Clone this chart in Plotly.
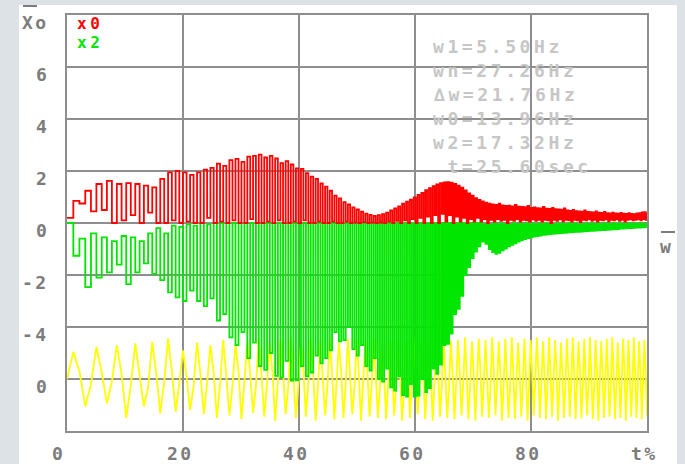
import plotly.graph_objects as go

# time (t%) of the turning points (peaks / zero returns)
t_ext = [
    0.00, 1.09, 2.14, 3.15, 4.13, 5.07, 5.99, 6.88, 7.74, 8.59,
    9.41, 10.21, 11.00, 11.77, 12.52, 13.26, 13.99, 14.70, 15.40, 16.08,
    16.76, 17.43, 18.08, 18.73, 19.36, 19.99, 20.61, 21.22, 21.82, 22.42,
    23.00, 23.59, 24.16, 24.73, 25.29, 25.84, 26.39, 26.93, 27.47, 28.00,
    28.53, 29.05, 29.57, 30.08, 30.59, 31.09, 31.59, 32.08, 32.57, 33.06,
    33.54, 34.01, 34.49, 34.96, 35.42, 35.89, 36.35, 36.80, 37.25, 37.70,
    38.15, 38.59, 39.03, 39.47, 39.90, 40.34, 40.76, 41.19, 41.61, 42.03,
    42.45, 42.87, 43.28, 43.69, 44.09, 44.50, 44.90, 45.30, 45.70, 46.10,
    46.49, 46.88, 47.27, 47.66, 48.05, 48.43, 48.81, 49.19, 49.57, 49.94,
    50.32, 50.69, 51.06, 51.43, 51.80, 52.16, 52.52, 52.89, 53.25, 53.60,
    53.96, 54.32, 54.67, 55.02, 55.37, 55.72, 56.07, 56.41, 56.76, 57.10,
    57.44, 57.78, 58.12, 58.46, 58.79, 59.13, 59.46, 59.79, 60.13, 60.45,
    60.78, 61.11, 61.44, 61.76, 62.08, 62.41, 62.73, 63.05, 63.37, 63.68,
    64.00, 64.31, 64.63, 64.94, 65.25, 65.56, 65.87, 66.18, 66.49, 66.80,
    67.10, 67.41, 67.71, 68.01, 68.32, 68.62, 68.92, 69.21, 69.51, 69.81,
    70.11, 70.40, 70.69, 70.99, 71.28, 71.57, 71.86, 72.15, 72.44, 72.73,
    73.02, 73.30, 73.59, 73.87, 74.16, 74.44, 74.72, 75.00, 75.29, 75.57,
    75.84, 76.12, 76.40, 76.68, 76.95, 77.23, 77.50, 77.78, 78.05, 78.32,
    78.59, 78.87, 79.14, 79.41, 79.67, 79.94, 80.21, 80.48, 80.74, 81.01,
    81.27, 81.54, 81.80, 82.06, 82.33, 82.59, 82.85, 83.11, 83.37, 83.63,
    83.89, 84.15, 84.40, 84.66, 84.92, 85.17, 85.43, 85.68, 85.93, 86.19,
    86.44, 86.69, 86.94, 87.19, 87.44, 87.69, 87.94, 88.19, 88.44, 88.69,
    88.94, 89.18, 89.43, 89.67, 89.92, 90.16, 90.41, 90.65, 90.89, 91.14,
    91.38, 91.62, 91.86, 92.10, 92.34, 92.58, 92.82, 93.06, 93.30, 93.53,
    93.77, 94.01, 94.24, 94.48, 94.71, 94.95, 95.18, 95.42, 95.65, 95.88,
    96.12, 96.35, 96.58, 96.81, 97.04, 97.27, 97.50, 97.73, 97.96, 98.19,
    98.42, 98.64, 98.87, 99.10, 99.32, 99.55, 99.78, 100.00,
]

# x0 (red)
x0 = [
    0.20, 0.85, 0.75, 1.24, 0.45, 1.50, 0.50, 1.62, 0.00, 1.50,
    0.10, 1.53, 0.30, 1.50, 0.00, 1.44, 0.40, 1.37, 0.00, 1.70,
    0.00, 1.95, 0.10, 2.00, 0.00, 1.95, 0.05, 1.85, 0.00, 1.95,
    0.00, 2.05, 0.20, 2.12, 0.00, 2.28, 0.05, 2.20, 0.00, 2.42,
    0.10, 2.47, 0.00, 2.35, 0.00, 2.55, 0.15, 2.58, 0.00, 2.63,
    0.00, 2.52, 0.05, 2.58, 0.00, 2.48, 0.10, 2.30, 0.00, 2.38,
    0.00, 2.25, 0.05, 2.10, 0.00, 2.08, 0.10, 1.92, 0.00, 1.78,
    0.00, 1.70, 0.05, 1.52, 0.00, 1.40, 0.00, 1.24, 0.05, 1.05,
    0.00, 0.95, 0.00, 0.80, 0.05, 0.72, 0.00, 0.60, 0.02, 0.52,
    0.00, 0.44, 0.03, 0.36, 0.00, 0.31, 0.02, 0.27, 0.00, 0.30,
    0.02, 0.34, 0.00, 0.40, 0.05, 0.48, 0.00, 0.56, 0.08, 0.64,
    0.00, 0.74, 0.10, 0.82, 0.00, 0.90, 0.15, 0.98, 0.00, 1.08,
    0.20, 1.16, 0.00, 1.26, 0.25, 1.34, 0.00, 1.42, 0.30, 1.48,
    0.00, 1.53, 0.35, 1.56, 0.05, 1.57, 0.30, 1.55, 0.00, 1.50,
    0.25, 1.44, 0.05, 1.36, 0.20, 1.25, 0.00, 1.14, 0.15, 1.05,
    0.05, 0.96, 0.20, 0.89, 0.05, 0.83, 0.15, 0.78, 0.00, 0.74,
    0.12, 0.72, 0.05, 0.70, 0.15, 0.74, 0.08, 0.68, 0.12, 0.66,
    0.00, 0.67, 0.12, 0.64, 0.08, 0.70, 0.15, 0.63, 0.05, 0.62,
    0.12, 0.61, 0.10, 0.66, 0.05, 0.58, 0.14, 0.60, 0.08, 0.57,
    0.12, 0.56, 0.05, 0.62, 0.12, 0.55, 0.10, 0.54, 0.00, 0.58,
    0.12, 0.53, 0.08, 0.52, 0.14, 0.51, 0.06, 0.56, 0.12, 0.48,
    0.10, 0.47, 0.05, 0.50, 0.12, 0.46, 0.10, 0.45, 0.03, 0.44,
    0.12, 0.48, 0.10, 0.43, 0.14, 0.42, 0.08, 0.41, 0.12, 0.45,
    0.05, 0.40, 0.12, 0.39, 0.10, 0.43, 0.14, 0.38, 0.06, 0.37,
    0.12, 0.40, 0.10, 0.37, 0.14, 0.36, 0.08, 0.39, 0.12, 0.36,
    0.05, 0.35, 0.12, 0.38, 0.14, 0.35, 0.10, 0.34, 0.12, 0.37,
    0.14, 0.38, 0.10, 0.41, 0.15, 0.42, 0.12, 0.40,
]

# x2 (green)
x2 = [
    0.00, -1.26, -0.60, -2.47, -0.40, -2.10, -0.55, -1.90, -0.70, -1.60,
    -0.50, -2.35, -0.55, -1.90, -0.70, -1.55, -0.40, -1.96, -0.20, -2.20,
    -0.40, -2.67, -0.10, -2.86, -0.15, -3.00, -0.05, -2.60, -0.10, -3.00,
    0.00, -3.20, -0.05, -2.90, 0.00, -3.75, 0.00, -3.50, 0.00, -4.40,
    0.00, -4.70, 0.00, -4.20, 0.00, -5.20, 0.00, -4.60, 0.00, -5.50,
    0.00, -5.65, 0.00, -5.00, 0.00, -5.88, 0.00, -5.94, 0.00, -5.30,
    0.00, -6.06, 0.00, -6.05, 0.00, -5.50, 0.00, -5.90, 0.00, -5.75,
    0.00, -5.10, 0.00, -5.40, 0.00, -5.20, 0.00, -4.90, 0.00, -4.20,
    0.00, -4.55, 0.00, -4.50, 0.00, -4.00, 0.00, -4.85, 0.00, -5.10,
    0.00, -4.70, 0.00, -5.50, 0.00, -5.68, 0.00, -5.20, 0.00, -6.00,
    0.00, -6.10, 0.00, -5.60, 0.00, -6.32, 0.00, -6.45, 0.00, -5.90,
    0.00, -6.62, 0.00, -6.68, 0.00, -6.20, 0.00, -6.68, 0.00, -6.64,
    0.00, -6.00, 0.00, -6.50, 0.00, -6.35, 0.00, -5.60, 0.00, -5.80,
    0.00, -5.45, 0.00, -4.70, 0.00, -4.65, 0.00, -4.25, 0.00, -3.50,
    0.00, -3.30, 0.00, -2.80, 0.00, -2.00, 0.00, -1.70, 0.00, -1.35,
    0.00, -1.10, 0.00, -0.90, 0.00, -0.72, -0.05, -0.80, 0.00, -1.00,
    -0.05, -1.12, 0.00, -1.19, -0.05, -1.15, 0.00, -1.05, -0.05, -0.98,
    0.00, -0.90, -0.05, -0.84, 0.00, -0.78, -0.05, -0.72, 0.00, -0.67,
    -0.05, -0.62, 0.00, -0.58, -0.05, -0.55, 0.00, -0.52, -0.05, -0.50,
    0.00, -0.48, -0.05, -0.46, 0.00, -0.45, -0.05, -0.43, 0.00, -0.42,
    -0.05, -0.41, 0.00, -0.40, -0.05, -0.39, 0.00, -0.38, -0.05, -0.37,
    0.00, -0.36, -0.05, -0.35, 0.00, -0.34, -0.05, -0.34, 0.00, -0.33,
    -0.05, -0.32, 0.00, -0.31, -0.05, -0.30, 0.00, -0.30, -0.05, -0.29,
    0.00, -0.28, -0.05, -0.27, 0.00, -0.27, -0.05, -0.26, 0.00, -0.25,
    -0.05, -0.24, 0.00, -0.24, -0.05, -0.23, 0.00, -0.22, -0.05, -0.22,
    0.00, -0.21, -0.05, -0.20, 0.00, -0.20, -0.05, -0.19, 0.00, -0.18,
    -0.05, -0.18, 0.00, -0.17, -0.05, -0.17, 0.00, -0.17,
]

# excitation (yellow), relative to its own zero line
excitation = [
    0.00, 1.05, 0.30, -1.06, -0.20, 1.24, 0.25, -0.94, -0.10, 1.30,
    0.20, -1.50, -0.25, 1.37, 0.15, -1.06, -0.30, 1.43, 0.20, -1.32,
    -0.10, 1.56, 0.30, -1.26, -0.20, 1.10, 0.10, -1.20, -0.30, 1.40,
    0.20, -1.35, -0.15, 1.30, 0.25, -1.50, -0.20, 1.50, 0.10, -1.40,
    -0.25, 1.35, 0.30, -1.55, -0.10, 1.45, 0.20, -1.30, -0.30, 1.55,
    0.15, -1.45, -0.20, 1.40, 0.30, -1.60, -0.10, 1.50, 0.25, -1.35,
    -0.30, 1.60, 0.10, -1.50, -0.20, 1.35, 0.30, -1.45, -0.15, 1.55,
    0.20, -1.60, -0.25, 1.45, 0.10, -1.40, -0.30, 1.60, 0.25, -1.55,
    -0.10, 1.40, 0.30, -1.50, -0.20, 1.55, 0.15, -1.35, -0.30, 1.50,
    0.20, -1.60, -0.10, 1.45, 0.25, -1.45, -0.25, 1.60, 0.10, -1.50,
    -0.30, 1.40, 0.20, -1.55, -0.15, 1.55, 0.30, -1.40, -0.20, 1.50,
    0.10, -1.60, -0.25, 1.45, 0.30, -1.50, -0.10, 1.60, 0.20, -1.35,
    -0.30, 1.50, 0.15, -1.55, -0.20, 1.40, 0.25, -1.60, -0.10, 1.55,
    0.30, -1.45, -0.25, 1.60, 0.10, -1.50, -0.30, 1.45, 0.20, -1.55,
    -0.15, 1.50, 0.30, -1.40, -0.20, 1.60, 0.10, -1.55, -0.25, 1.45,
    0.20, -1.60, -0.10, 1.55, 0.30, -1.45, -0.20, 1.50, 0.15, -1.50,
    -0.30, 1.60, 0.25, -1.40, -0.10, 1.45, 0.20, -1.60, -0.25, 1.55,
    0.10, -1.50, -0.30, 1.60, 0.30, -1.55, -0.15, 1.40, 0.20, -1.45,
    -0.20, 1.55, 0.10, -1.60, -0.30, 1.50, 0.25, -1.40, -0.10, 1.60,
    0.30, -1.50, -0.20, 1.45, 0.15, -1.55, -0.25, 1.60, 0.20, -1.45,
    -0.10, 1.50, 0.30, -1.60, -0.20, 1.40, 0.10, -1.50, -0.30, 1.55,
    0.25, -1.45, -0.15, 1.60, 0.20, -1.55, -0.10, 1.45, 0.30, -1.50,
    -0.25, 1.55, 0.10, -1.40, -0.20, 1.60, 0.15, -1.55, -0.30, 1.50,
    0.20, -1.60, -0.10, 1.45, 0.30, -1.50, -0.25, 1.55, 0.10, -1.45,
    -0.20, 1.60, 0.25, -1.55, -0.30, 1.40, 0.15, -1.50, -0.10, 1.55,
    0.30, -1.60, -0.20, 1.50, 0.10, -1.45, -0.25, 1.60, 0.20, -1.50,
    -0.15, 1.45, 0.30, -1.55, -0.10, 1.50, 0.20, -1.40,
]
EXC_ZERO = -6  # the yellow channel's own zero line (second "0" tick)

assert len(t_ext) == len(x0) == len(x2) == len(excitation) == 268

x_tick_vals = [0, 20, 40, 60, 80, 100]
x_tick_text = ["0", "20", "40", "60", "80", "t%"]
y_tick_vals = [8, 6, 4, 2, 0, -2, -4, -6]
y_tick_text = ["Xo", "6", "4", "2", "0", "-2", "-4", "0"]
info_lines = ["w1=5.50Hz", "wn=27.26Hz", "\u2206w=21.76Hz", "w0=13.96Hz",
              "w2=17.32Hz", " t=25.60sec"]
legend_names = ["x0", "x2"]

RED, GREEN, YELLOW = "#ff0000", "#00e600", "#ffff00"
GRID = "#8e8e8e"
LABEL = "#7c7c7c"
INFO = "#c6c6c6"
MONO = "DejaVu Sans Mono"

L, R, T, B = 67, 38, 15, 33
W, H = 685, 464
PW, PH = W - L - R, H - T - B


def px_x(px):
    return (px - L) / PW


def px_y(py):
    return (H - B - py) / PH


def spaced(s, sp):
    return '<span style="letter-spacing:%.1fpx"><b>%s</b></span>' % (sp, s)


fig = go.Figure()
fig.add_trace(go.Scatter(x=t_ext, y=[EXC_ZERO + v for v in excitation], mode="lines",
                         line=dict(color=YELLOW, width=1.8), hoverinfo="skip"))
fig.add_trace(go.Scatter(x=t_ext, y=x2, mode="lines", name=legend_names[1],
                         line=dict(color=GREEN, width=1.8, shape="hv"), hoverinfo="skip"))
fig.add_trace(go.Scatter(x=t_ext, y=x0, mode="lines", name=legend_names[0],
                         line=dict(color=RED, width=1.8, shape="hv"), hoverinfo="skip"))

annotations = []
for v, s in zip(x_tick_vals, x_tick_text):
    annotations.append(dict(x=v, xref="x", y=px_y(453), yref="paper", text=spaced(s, 2.5),
                            showarrow=False, xanchor="center", yanchor="middle",
                            xshift=(-9 if v == 0 else -3),
                            font=dict(family=MONO, size=18, color=LABEL)))
for v, s in zip(y_tick_vals, y_tick_text):
    annotations.append(dict(x=px_x(51), xref="paper", y=v, yref="y", text=spaced(s, 2.5),
                            showarrow=False, xanchor="right", yanchor="middle", yshift=-7,
                            font=dict(family=MONO, size=18, color=LABEL)))
for name, col, py in zip(legend_names, [RED, GREEN], [23, 42]):
    annotations.append(dict(x=px_x(75), xref="paper", y=px_y(py), yref="paper",
                            text=spaced(name, 3.5), showarrow=False, xanchor="left",
                            yanchor="middle",
                            font=dict(family=MONO, size=16, color=col)))
for i, s in enumerate(info_lines):
    py = 46 + i * 23.9
    annotations.append(dict(x=px_x(431), xref="paper", y=px_y(py), yref="paper",
                            text=spaced(s.replace(" ", "&nbsp;"), 3.6), showarrow=False,
                            xanchor="left", yanchor="middle", height=22,
                            font=dict(family=MONO, size=18, color=INFO)))
annotations.append(dict(x=px_x(666), xref="paper", y=px_y(246), yref="paper",
                        text="<b>w</b>", showarrow=False, xanchor="center", yanchor="middle",
                        font=dict(family=MONO, size=18, color=LABEL)))

shapes = [
    dict(type="rect", xref="paper", yref="paper", x0=px_x(19), x1=px_x(677),
         y0=px_y(5), y1=px_y(470), fillcolor="white", line=dict(width=0), layer="below"),
    dict(type="line", xref="paper", yref="paper", x0=px_x(23), x1=px_x(37),
         y0=px_y(6), y1=px_y(6), line=dict(color=LABEL, width=2)),
    dict(type="line", xref="paper", yref="paper", x0=px_x(661), x1=px_x(675),
         y0=px_y(232), y1=px_y(232), line=dict(color=LABEL, width=2)),
]

fig.update_layout(
    width=W, height=H, margin=dict(l=L, r=R, t=T, b=B, pad=0),
    paper_bgcolor="#dde2e6", plot_bgcolor="white", showlegend=False,
    annotations=annotations, shapes=shapes,
)
fig.update_xaxes(range=[0, 100], tickvals=[20, 40, 60, 80], showticklabels=False,
                 showgrid=True, gridcolor=GRID, gridwidth=2, zeroline=False,
                 showline=True, linecolor=GRID, linewidth=2, mirror=True, ticks="")
fig.update_yaxes(range=[-8, 8], tickvals=[-6, -4, -2, 0, 2, 4, 6], showticklabels=False,
                 showgrid=True, gridcolor=GRID, gridwidth=2, zeroline=False,
                 showline=True, linecolor=GRID, linewidth=2, mirror=True, ticks="")

fig.write_html("out.html", config={"displayModeBar": False})
